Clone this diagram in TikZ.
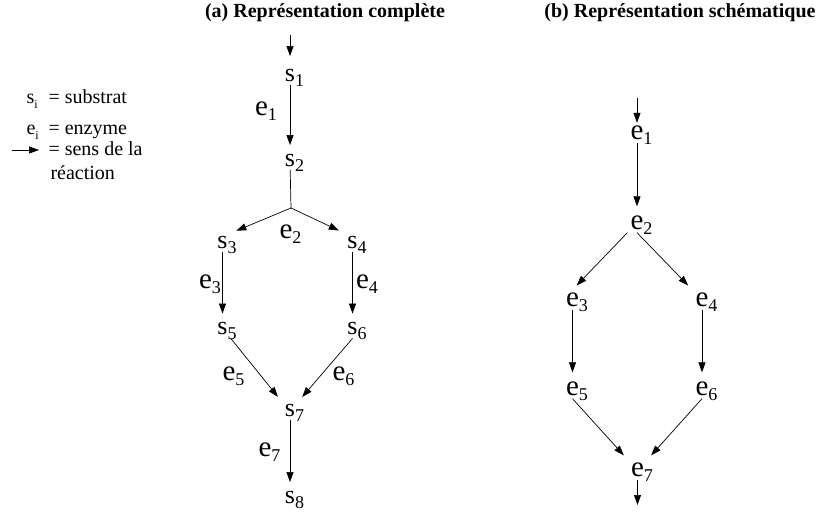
\documentclass[tikz,border=0pt]{standalone}
\usepackage{fontspec}
\setmainfont{Liberation Serif}
\usetikzlibrary{arrows.meta}
\newcommand{\lbl}[3][18]{#2\rlap{\smash{\raisebox{-5pt}{\fontsize{#1}{#1}\selectfont #3}}}}

\begin{document}
\begin{tikzpicture}[x=1pt,y=-1pt,
    sub/.style={inner sep=3pt,font=\fontsize{26}{26}\selectfont},
    enz/.style={inner sep=3pt,font=\fontsize{29}{29}\selectfont},
    flow/.style={-{Triangle[length=10pt,width=7pt]},line width=0.7pt,shorten >=6pt},
    title/.style={anchor=base,font=\fontsize{20}{24}\selectfont\bfseries},
    legend/.style={anchor=base west,font=\fontsize{20}{24}\selectfont}]
    \useasboundingbox (0,0) rectangle (820,513);

    % titles
    \node[title] (ta) at (325,18) {(a) Représentation complète};
    \node[title] (tb) at (680,18) {(b) Représentation schématique};

    % legend
    \node[legend] (ls) at (23,104) {\lbl[12]{s}{i}};
    \node[legend] (le) at (23,135) {\lbl[12]{e}{i}};
    \node[legend] (lst) at (45,104) {= substrat};
    \node[legend] (let) at (45,135) {= enzyme};
    \node[legend] (lsens) at (45,156) {= sens de la};
    \node[legend] (lreac) at (47,180) {réaction};
    \coordinate (la0) at (12,150);
    \coordinate (la1) at (39,150);
    \draw[flow,shorten >=0pt] (la0) -- (la1);

    % (a) substrats
    \node[sub] (s1) at (290,75.5) {\lbl{s}{1}};
    \node[sub] (s2) at (290,160.5) {\lbl{s}{2}};
    \node[sub] (s3) at (222.5,242.5) {\lbl{s}{3}};
    \node[sub] (s4) at (352.5,242.5) {\lbl{s}{4}};
    \node[sub] (s5) at (222.5,329) {\lbl{s}{5}};
    \node[sub] (s6) at (352.5,329) {\lbl{s}{6}};
    \node[sub] (s7) at (290,411) {\lbl{s}{7}};
    \node[sub] (s8) at (290,497.5) {\lbl{s}{8}};
    \node[enz] (ea1) at (261.5,108.5) {\lbl{e}{1}};
    \node[enz] (ea2) at (286,231.5) {\lbl{e}{2}};
    \node[enz] (ea3) at (205.5,281.5) {\lbl{e}{3}};
    \node[enz] (ea4) at (362.5,281.5) {\lbl{e}{4}};
    \node[enz] (ea5) at (229,373.5) {\lbl{e}{5}};
    \node[enz] (ea6) at (339,373.5) {\lbl{e}{6}};
    \node[enz] (ea7) at (265,450) {\lbl{e}{7}};
    \coordinate (ain) at (290,35);
    \coordinate (j) at (291,208);

    \draw[flow,shorten >=10pt] (ain) -- (s1);
    \foreach \a/\b in {s1/s2,s3/s5,s4/s6,s7/s8}
    \draw[flow] (\a) -- (\b);
    \draw[line width=0.7pt] (s2) -- (j);
    \draw[flow] (j) -- (s3.north east);
    \draw[flow] (j) -- (s4.north west);
    \draw[flow] (s5.south east) -- (s7.north west);
    \draw[flow] (s6.south) -- (s7.north east);

    % (b) enzymes
    \node[enz] (eb1) at (637,133) {\lbl{e}{1}};
    \node[enz] (eb2) at (637,222.5) {\lbl{e}{2}};
    \node[enz] (eb3) at (572.5,300) {\lbl{e}{3}};
    \node[enz] (eb4) at (702,300) {\lbl{e}{4}};
    \node[enz] (eb5) at (572.5,388.5) {\lbl{e}{5}};
    \node[enz] (eb6) at (702,388.5) {\lbl{e}{6}};
    \node[enz] (eb7) at (637.5,470) {\lbl{e}{7}};
    \coordinate (bin) at (637,98);
    \coordinate (bout) at (637.5,505);

    \draw[flow,shorten >=0pt] (bin) -- (eb1);
    \foreach \a/\b in {eb1/eb2,eb3/eb5,eb4/eb6}
    \draw[flow] (\a) -- (\b);
    \draw[flow] (eb2.south west) -- (eb3.north);
    \draw[flow] (eb2.south) -- (eb4.north west);
    \draw[flow] (eb5.south) -- (eb7.north west);
    \draw[flow] (eb6.south) -- (eb7.north east);
    \draw[flow,shorten >=0pt] (eb7) -- (bout);
\end{tikzpicture}
\end{document}
